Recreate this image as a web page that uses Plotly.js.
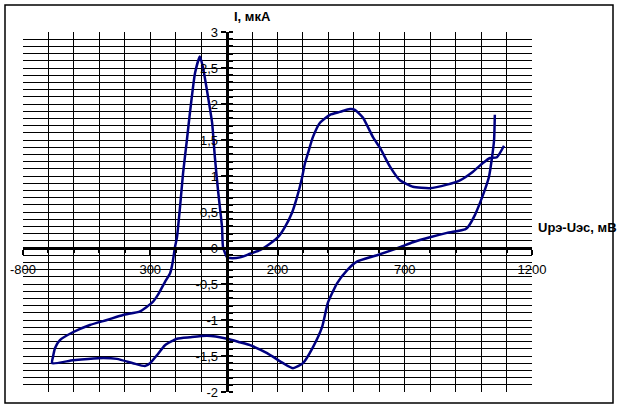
<!DOCTYPE html>
<html><head><meta charset="utf-8">
<script src="https://cdn.plot.ly/plotly-3.0.1.min.js"></script>
<style>html,body{margin:0;padding:0;background:#fff}#chart{width:620px;height:410px}</style>
</head><body><div id="chart"></div>
<script>
// Potential, mV
const U = [1054,1051,1043,1031,1015,996,976,948,937,866,799,732,681,591,512,473,434,398,375,339,300,261,222,159,92,53,2,-77,-144,-195,-242,-274,-301,-321,-368,-431,-505,-604,-686,
 -682,-674,-655,-604,-537,-470,-407,-340,-293,-270,-242,-222,-212,-203,-195,-183,-171,-156,-144,-124,-105,-93,-73,-57,-46,-34,-18,-14,2,13,53,92,131,170,202,229,257,277,296,308,320,339,367,406,445,485,504,536,575,603,642,681,732,799,866,917,968,1007,1035,1062,1090];
// Current, uA
const I = [1.85,1.50,1.26,0.99,0.81,0.63,0.46,0.29,0.26,0.21,0.15,0.08,0.01,-0.10,-0.19,-0.31,-0.49,-0.76,-1.10,-1.38,-1.60,-1.67,-1.60,-1.46,-1.35,-1.31,-1.26,-1.22,-1.24,-1.26,-1.35,-1.49,-1.60,-1.64,-1.60,-1.54,-1.53,-1.56,-1.60,
 -1.51,-1.39,-1.28,-1.17,-1.07,-1.00,-0.93,-0.88,-0.76,-0.65,-0.47,-0.35,-0.20,0.01,0.15,0.57,1.04,1.50,1.88,2.43,2.66,2.51,2.10,1.74,1.26,0.81,0.29,0.01,-0.13,-0.14,-0.13,-0.08,-0.03,0.06,0.15,0.29,0.49,0.71,0.97,1.18,1.32,1.54,1.74,1.85,1.89,1.93,1.92,1.81,1.54,1.39,1.13,0.94,0.85,0.83,0.88,0.94,1.06,1.18,1.25,1.26,1.42];

const xTickVals = [-800,-300,200,700,1200];
const xTickText = ['-800','300','200','700','1200'];
const yTickVals = [-2,-1.5,-1,-0.5,0,0.5,1,1.5,2,2.5,3];
const yTickText = ['-2','-1,5','-1','-0,5','0','0,5','1','1,5','2','2,5','3'];
const xTitle = 'Uрэ-Uэс, мВ';
const yTitle = 'I, мкА';

// gridline positions (style only), excluding plot edges
const gx = []; for (let v = -700; v <= 1100; v += 100) gx.push(v);
const gy = []; for (let k = -19; k <= 29; k++) gy.push(k / 10);

const font = {family: 'Liberation Sans, Arial, sans-serif', size: 13, color: '#000'};
const W = 509, H = 360, L = 23, T = 32;
const px = v => (v - L) / W, py = v => (T + H - v) / H;

const traces = [
  {x: U, y: I, mode: 'lines', line: {color: '#000080', width: 2.5, shape: 'spline', smoothing: 0.5}, hoverinfo: 'skip', showlegend: false},
  {x: [null], y: [null], xaxis: 'x2', yaxis: 'y2', mode: 'lines', showlegend: false, hoverinfo: 'skip'}
];

const layout = {
  width: 620, height: 410,
  margin: {l: L, r: 620 - L - W, t: T, b: 410 - T - H},
  paper_bgcolor: '#fff', plot_bgcolor: '#fff',
  font: font, showlegend: false,
  xaxis: {range: [-800, 1200], anchor: 'free', position: 0.4, tickmode: 'array', tickvals: xTickVals, ticktext: xTickText,
    showgrid: false, zeroline: false, showline: true, linecolor: '#000', linewidth: 3,
    ticks: 'outside', ticklen: 5, tickwidth: 2, tickcolor: '#000', ticklabelstandoff: 3, tickfont: font,
    minor: {tickmode: 'linear', tick0: -800, dtick: 100, ticks: 'outside', ticklen: 3, tickwidth: 2, tickcolor: '#000', showgrid: false},
    fixedrange: true},
  yaxis: {range: [-2, 3], anchor: 'free', position: 0.4, tickmode: 'array', tickvals: yTickVals, ticktext: yTickText,
    showgrid: false, zeroline: false, showline: true, linecolor: '#000', linewidth: 3,
    ticks: 'outside', ticklen: 5, tickwidth: 2, tickcolor: '#000', tickfont: font,
    minor: {tickmode: 'linear', tick0: 0, dtick: 0.1, ticks: 'inside', ticklen: 4, tickwidth: 2, tickcolor: '#000', showgrid: false},
    fixedrange: true},
  xaxis2: {overlaying: 'x', matches: 'x', range: [-800, 1200], anchor: 'y2', tickmode: 'array', tickvals: gx, showticklabels: false, ticks: '',
    showgrid: true, gridcolor: '#000', gridwidth: 1, zeroline: false, showline: false},
  yaxis2: {overlaying: 'y', range: [-2, 3], anchor: 'x2', tickmode: 'array', tickvals: gy, showticklabels: false, ticks: '',
    showgrid: true, gridcolor: '#000', gridwidth: 1, zeroline: false, showline: false},
  annotations: [
    {text: yTitle, xref: 'paper', yref: 'paper', x: px(232), y: py(17), xanchor: 'left', yanchor: 'middle', showarrow: false,
      font: {family: font.family, size: 13, color: '#000', weight: 'bold'}},
    {text: xTitle, xref: 'paper', yref: 'paper', x: px(536), y: py(227), xanchor: 'left', yanchor: 'middle', showarrow: false,
      font: {family: font.family, size: 13, color: '#000', weight: 'bold'}}
  ],
  shapes: [
    {type: 'rect', xref: 'paper', yref: 'paper', x0: px(5), x1: px(613), y0: py(403), y1: py(5), line: {color: '#000', width: 1.5}}
  ]
};

Plotly.newPlot('chart', traces, layout, {staticPlot: true, displayModeBar: false});
</script></body></html>
